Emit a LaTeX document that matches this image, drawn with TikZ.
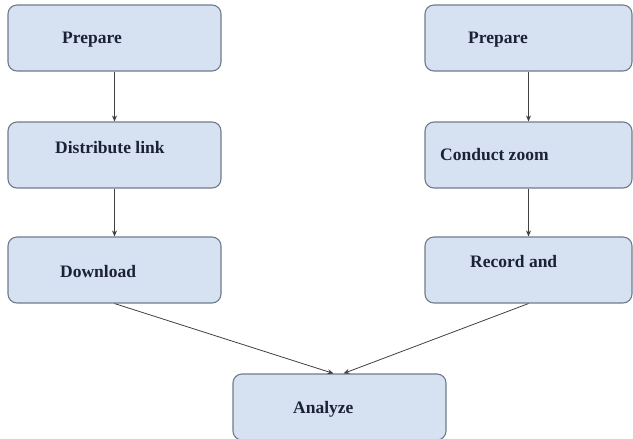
\documentclass[tikz,border=0pt]{standalone}
\usepackage{fontspec}
\setmainfont{Liberation Serif}
\usetikzlibrary{arrows.meta}
\definecolor{boxfill}{HTML}{D6E2F2}
\definecolor{boxline}{HTML}{6E7C8C}
\definecolor{txt}{HTML}{1C2236}
\begin{document}
\begin{tikzpicture}[x=1pt,y=-1pt,
  box/.style={draw=boxline, line width=1.1pt, fill=boxfill, rounded corners=9pt, minimum width=213pt, minimum height=66pt, inner sep=0pt},
  lbl/.style={text=txt, font=\bfseries\fontsize{17.5}{20}\selectfont, inner sep=0pt, anchor=base west},
  arr/.style={draw=black!75, line width=0.8pt, -{Stealth[length=6pt,width=5pt]}}]
\useasboundingbox (0,0) rectangle (633,439);
% left column
\node[box] (p1) at (114.5,38) {};
\node[box] (d1) at (114.5,155) {};
\node[box] (w1) at (114.5,270) {};
% right column
\node[box, minimum width=207pt] (p2) at (528.5,38) {};
\node[box, minimum width=207pt] (c2) at (528.5,155) {};
\node[box, minimum width=207pt] (r2) at (528.5,270) {};
% bottom
\node[box] (an) at (339.5,407) {};
% labels
\node[lbl] (tp1) at (62,43) {Prepare};
\node[lbl] (td1) at (55,153) {Distribute link};
\node[lbl] (tw1) at (60,277) {Download};
\node[lbl] (tp2) at (468,43) {Prepare};
\node[lbl] (tc2) at (440,160) {Conduct zoom};
\node[lbl] (tr2) at (470,267) {Record and};
\node[lbl] (tan) at (293,413) {Analyze};
% arrows
\draw[arr] (p1) -- (d1);
\draw[arr] (d1) -- (w1);
\draw[arr] (p2) -- (c2);
\draw[arr] (c2) -- (r2);
\draw[arr] (w1.south) -- ([xshift=-6pt]an.north);
\draw[arr] (r2.south) -- ([xshift=4pt]an.north);
\end{tikzpicture}
\end{document}
